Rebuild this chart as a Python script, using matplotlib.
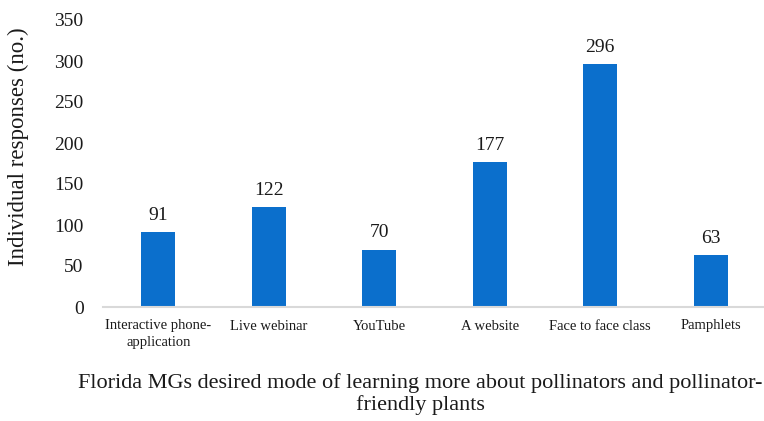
import matplotlib.pyplot as plt

categories = ["Interactive phone-\napplication", "Live webinar", "YouTube",
              "A website", "Face to face class", "Pamphlets"]
responses = [91, 122, 70, 177, 296, 63]
yticks = [0, 50, 100, 150, 200, 250, 300, 350]

plt.rcParams['font.family'] = ['Liberation Serif', 'DejaVu Serif']

W, H = 764, 421
fig = plt.figure(figsize=(W / 100, H / 100), dpi=100)
# axes reaches a little past the right edge, like the cropped original
ax = fig.add_axes([103 / W, 114 / H, 663 / W, 287 / H])

x = range(len(categories))
bars = ax.bar(x, responses, width=0.31, color='#0b6fcc')

for xi, v in zip(x, responses):
    ax.annotate(str(v), (xi, v), textcoords="offset points", xytext=(0, 6),
                ha='center', va='bottom', fontsize=14, color='#1a1a1a')

ax.set_xlim(-0.5, len(categories) - 0.5)
ax.set_ylim(0, 350)
ax.set_yticks(yticks)
ax.set_yticklabels([str(t) for t in yticks], fontsize=14, color='#1a1a1a')
ax.set_xticks(list(x))
ax.set_xticklabels(categories, fontsize=10.5, color='#1a1a1a', linespacing=1.35)
ax.tick_params(axis='y', length=0, pad=14)
ax.tick_params(axis='x', length=0, pad=9)

for side in ['top', 'right', 'left']:
    ax.spines[side].set_visible(False)
ax.spines['bottom'].set_color('#d9d9d9')
ax.spines['bottom'].set_linewidth(1.5)

fig.text(18 / W, 1 - 147 / H, "Individual responses (no.)", rotation=90,
         ha='center', va='center', fontsize=16.5, color='#1a1a1a')
fig.text(420 / W, 1 - 394 / H,
         "Florida MGs desired mode of learning more about pollinators and pollinator-\nfriendly plants",
         ha='center', va='center', fontsize=16, color='#1a1a1a', linespacing=1.1)

fig.savefig("out.png", dpi=100)
